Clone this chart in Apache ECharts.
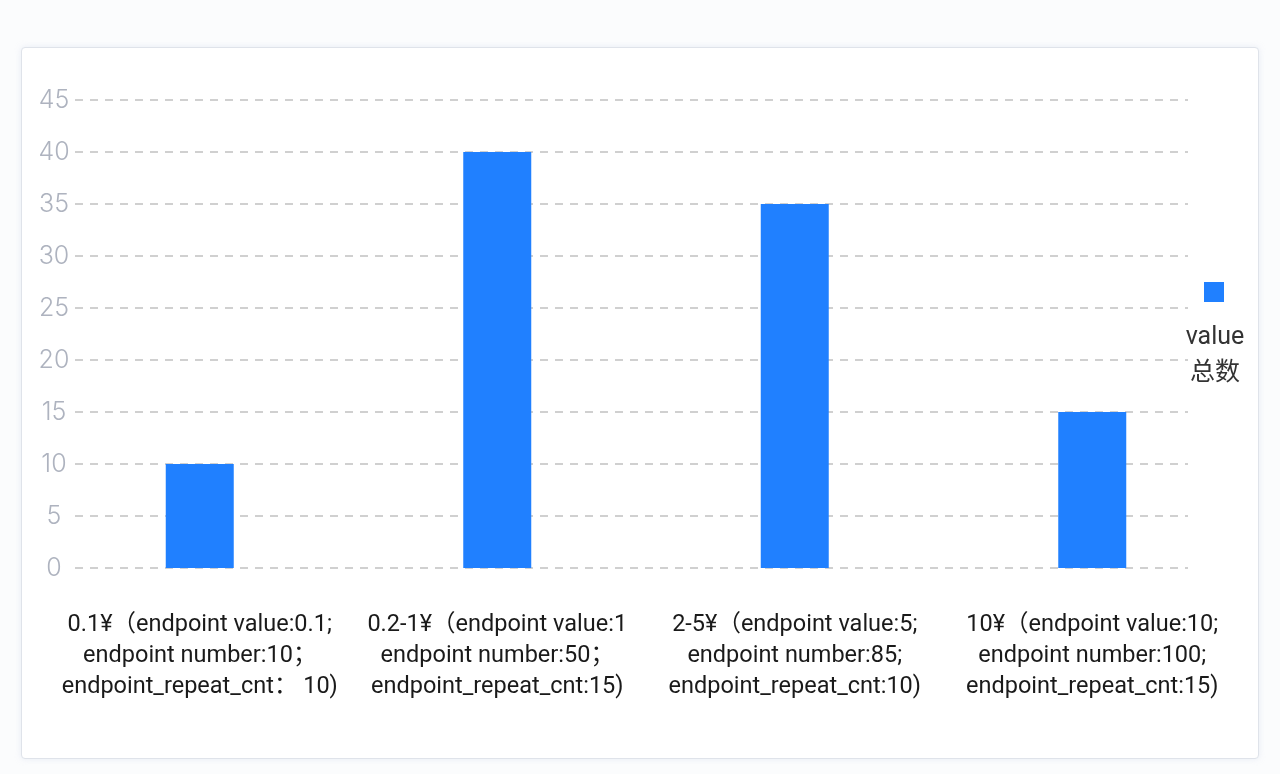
<!DOCTYPE html>
<html>
<head>
<meta charset="utf-8">
<script src="https://cdn.jsdelivr.net/npm/echarts@6/dist/echarts.min.js"></script>
<style>
  html, body { margin: 0; padding: 0; background: #fbfcfd; }
  #card {
    position: absolute; left: 21px; top: 47px; width: 1236px; height: 710px;
    background: #fff; border: 1px solid #dfe3ea; border-radius: 4px;
    box-shadow: 0 0 6px rgba(200, 210, 230, 0.35);
  }
  #main { position: absolute; left: 0; top: 0; width: 1280px; height: 774px; }
</style>
</head>
<body>
<div id="card"></div>
<div id="main"></div>
<script>
var categories = [
    '0.1¥（endpoint value:0.1;\nendpoint number:10；\nendpoint_repeat_cnt： 10)',
    '0.2-1¥（endpoint value:1\nendpoint number:50；\nendpoint_repeat_cnt:15)',
    '2-5¥（endpoint value:5;\nendpoint number:85;\nendpoint_repeat_cnt:10)',
    '10¥（endpoint value:10;\nendpoint number:100;\nendpoint_repeat_cnt:15)'
];
var values = [10, 40, 35, 15];
var yTicks = [0, 5, 10, 15, 20, 25, 30, 35, 40, 45];
var seriesName = 'value';
var legendText = 'value\n总数';

var myChart = echarts.init(document.getElementById('main'));

myChart.setOption({
    animation: false,
    // grid 0 draws the y axis and dashed lines, grid 1 places the bars
    grid: [
        { left: 75, right: 92, top: 100, bottom: 206 },
        { left: 51, right: 39, top: 100, bottom: 206 }
    ],
    legend: {
        data: [seriesName],
        orient: 'vertical',
        left: 1204,
        top: 282,
        padding: 0,
        itemWidth: 20,
        itemHeight: 20,
        icon: 'rect',
        formatter: function () { return ''; }
    },
    graphic: [{
        type: 'text',
        x: 1215,
        y: 320,
        style: {
            text: legendText,
            font: '25px Roboto, "Noto Sans CJK SC", sans-serif',
            lineHeight: 36,
            align: 'center',
            fill: '#333'
        }
    }],
    xAxis: [{
        gridIndex: 0,
        type: 'category',
        data: categories,
        show: false
    }, {
        gridIndex: 1,
        type: 'category',
        data: categories,
        axisLine: { show: false },
        axisTick: { show: false },
        splitLine: { show: false },
        axisLabel: {
            interval: 0,
            margin: 42,
            color: '#1a1a1a',
            fontSize: 23.5,
            lineHeight: 31,
            fontFamily: 'Roboto, "Noto Sans CJK SC", sans-serif'
        }
    }],
    yAxis: [{
        gridIndex: 0,
        type: 'value',
        min: yTicks[0],
        max: yTicks[yTicks.length - 1],
        interval: yTicks[1] - yTicks[0],
        axisLine: { show: false },
        axisTick: { show: false },
        axisLabel: {
            margin: 21,
            align: 'center',
            color: '#aeb3bf',
            fontSize: 25,
            fontFamily: 'Inter, Roboto, sans-serif',
            fontWeight: 300
        },
        splitLine: {
            lineStyle: { color: '#d0d0d0', width: 2, type: [8, 7] }
        }
    }, {
        gridIndex: 1,
        type: 'value',
        min: yTicks[0],
        max: yTicks[yTicks.length - 1],
        show: false,
        splitLine: { show: false }
    }],
    series: [{
        name: seriesName,
        type: 'bar',
        xAxisIndex: 1,
        yAxisIndex: 1,
        barWidth: 68,
        itemStyle: { color: '#2080ff' },
        data: values
    }]
});
</script>
</body>
</html>
